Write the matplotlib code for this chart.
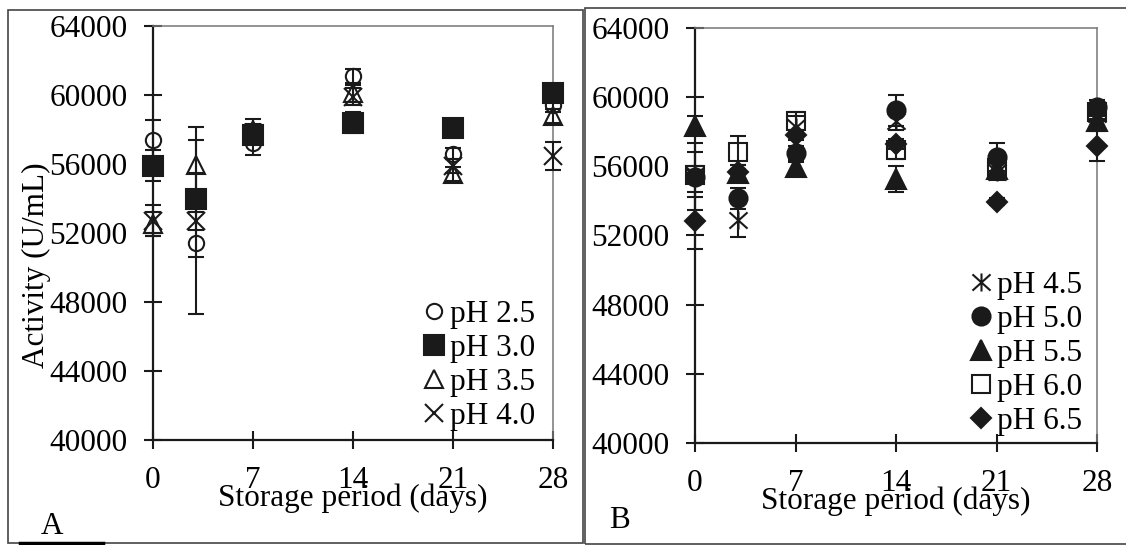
import matplotlib
matplotlib.use('Agg')
import matplotlib.pyplot as plt
from matplotlib.lines import Line2D
from matplotlib.patches import Rectangle
from matplotlib.path import Path

plt.rcParams['font.family'] = ['Liberation Serif', 'DejaVu Serif']
plt.rcParams['font.size'] = 22.5

days = [0, 3, 7, 14, 21, 28]
day_ticks = [0, 7, 14, 21, 28]
y_ticks = [40000, 44000, 48000, 52000, 56000, 60000, 64000]

# panel A: pH 2.5 - 4.0
ph25 = [57400, 51400, 57200, 61100, 56600, 59400]
ph25_err = [1150, 4100, 700, 400, 300, 400]
ph30 = [55900, 54000, 57700, 58400, 58100, 60100]
ph30_err = [900, 3400, 400, 600, 300, 300]
ph35 = [52500, 55950, 58000, 60100, 55400, 58800]
ph35_err = [700, 2200, 600, 500, 400, 400]
ph40 = [52700, 52700, 57800, 59900, 55900, 56450]
ph40_err = [900, 500, 500, 500, 400, 800]

# panel B: pH 4.5 - 6.5
ph45 = [55500, 52900, 58300, 58600, 55700, 59000]
ph45_err = [300, 1000, 600, 500, 500, 400]
ph50 = [55400, 54150, 56750, 59250, 56550, 59450]
ph50_err = [1950, 600, 400, 900, 800, 400]
ph55 = [58350, 55600, 55950, 55250, 55850, 58600]
ph55_err = [550, 500, 300, 750, 400, 300]
ph60 = [55500, 56800, 58600, 56950, 55900, 59150]
ph60_err = [1300, 950, 550, 500, 500, 400]
ph65 = [52850, 55700, 57800, 57300, 53950, 57150]
ph65_err = [1650, 400, 300, 300, 200, 870]

star = Path([(-0.5, -0.45), (0.5, 0.45), (-0.5, 0.45), (0.5, -0.45), (0, -0.5), (0, 0.5)],
            [Path.MOVETO, Path.LINETO, Path.MOVETO, Path.LINETO, Path.MOVETO, Path.LINETO])

series_a = [
    ('pH 2.5', ph25, ph25_err, dict(marker='o', ms=11, mfc='none')),
    ('pH 3.0', ph30, ph30_err, dict(marker='s', ms=14, mfc='#1a1a1a')),
    ('pH 3.5', ph35, ph35_err, dict(marker='^', ms=13, mfc='none')),
    ('pH 4.0', ph40, ph40_err, dict(marker='x', ms=13, mfc='none')),
]
series_b = [
    ('pH 4.5', ph45, ph45_err, dict(marker=star, ms=13, mfc='none')),
    ('pH 5.0', ph50, ph50_err, dict(marker='o', ms=13, mfc='#1a1a1a')),
    ('pH 5.5', ph55, ph55_err, dict(marker='^', ms=14, mfc='#1a1a1a')),
    ('pH 6.0', ph60, ph60_err, dict(marker='s', ms=13, mfc='none')),
    ('pH 6.5', ph65, ph65_err, dict(marker='D', ms=10, mfc='#1a1a1a')),
]

W, H = 1126, 545
fig = plt.figure(figsize=(W / 100, H / 100), dpi=100)


def px_axes(x0, y0, x1, y1):
    return fig.add_axes([x0 / W, 1 - y1 / H, (x1 - x0) / W, (y1 - y0) / H])


def draw_panel(ax, series, legend_anchor):
    handles = []
    for label, vals, err, style in series:
        c = ax.errorbar(days, vals, yerr=err, fmt='none', ecolor='#1a1a1a',
                        elinewidth=1.5, capsize=6, capthick=1.5, zorder=3)
        for art in c.get_children():
            art.set_clip_on(False)
        ax.plot(days, vals, ls='none', mec='#1a1a1a', mew=1.5, clip_on=False,
                zorder=4, **style)
        handles.append(Line2D([], [], ls='none', mec='#1a1a1a', mew=1.5, **style))
    ax.set_xlim(0, 28)
    ax.set_ylim(40000, 64000)
    ax.set_xticks(day_ticks)
    ax.set_yticks(y_ticks)
    ax.tick_params(direction='inout', length=13, width=1.5, pad=12, color='#1a1a1a')
    for side in ['left', 'bottom']:
        ax.spines[side].set_linewidth(1.6)
        ax.spines[side].set_color('#1a1a1a')
    for side in ['top', 'right']:
        ax.spines[side].set_linewidth(1.1)
        ax.spines[side].set_color('#777777')
    ax.set_xlabel('Storage period (days)')
    ax.xaxis.set_label_coords(0.5, -0.105)
    ax.legend(handles, [s[0] for s in series], loc='lower right',
              bbox_to_anchor=legend_anchor, frameon=False, handlelength=0.7,
              handletextpad=0.15, labelspacing=0.16, borderpad=0, borderaxespad=0)


ax_a = px_axes(153, 26, 553, 440)
draw_panel(ax_a, series_a, (0.955, 0.022))
ax_b = px_axes(695, 28, 1097, 443)
draw_panel(ax_b, series_b, (0.963, 0.018))

fig.text(36 / W, 1 - 265 / H, 'Activity (U/mL)', rotation=90, ha='center', va='center')
fig.text(52 / W, 1 - 527 / H, 'A', ha='center', va='center')
fig.text(620 / W, 1 - 521 / H, 'B', ha='center', va='center')

# outer panel frames
fig.patches.append(Rectangle((8 / W, 1 - 543 / H), 575 / W, 533 / H, transform=fig.transFigure,
                             fill=False, ec='#444444', lw=1.2))
fig.patches.append(Rectangle((585 / W, 1 - 544 / H), 545 / W, 536 / H, transform=fig.transFigure,
                             fill=False, ec='#444444', lw=1.2))
fig.add_artist(Line2D([20 / W, 103 / W], [1 - 543 / H, 1 - 543 / H], transform=fig.transFigure,
                      color='black', lw=2.5))

fig.savefig('out.png', dpi=100, facecolor='white')
